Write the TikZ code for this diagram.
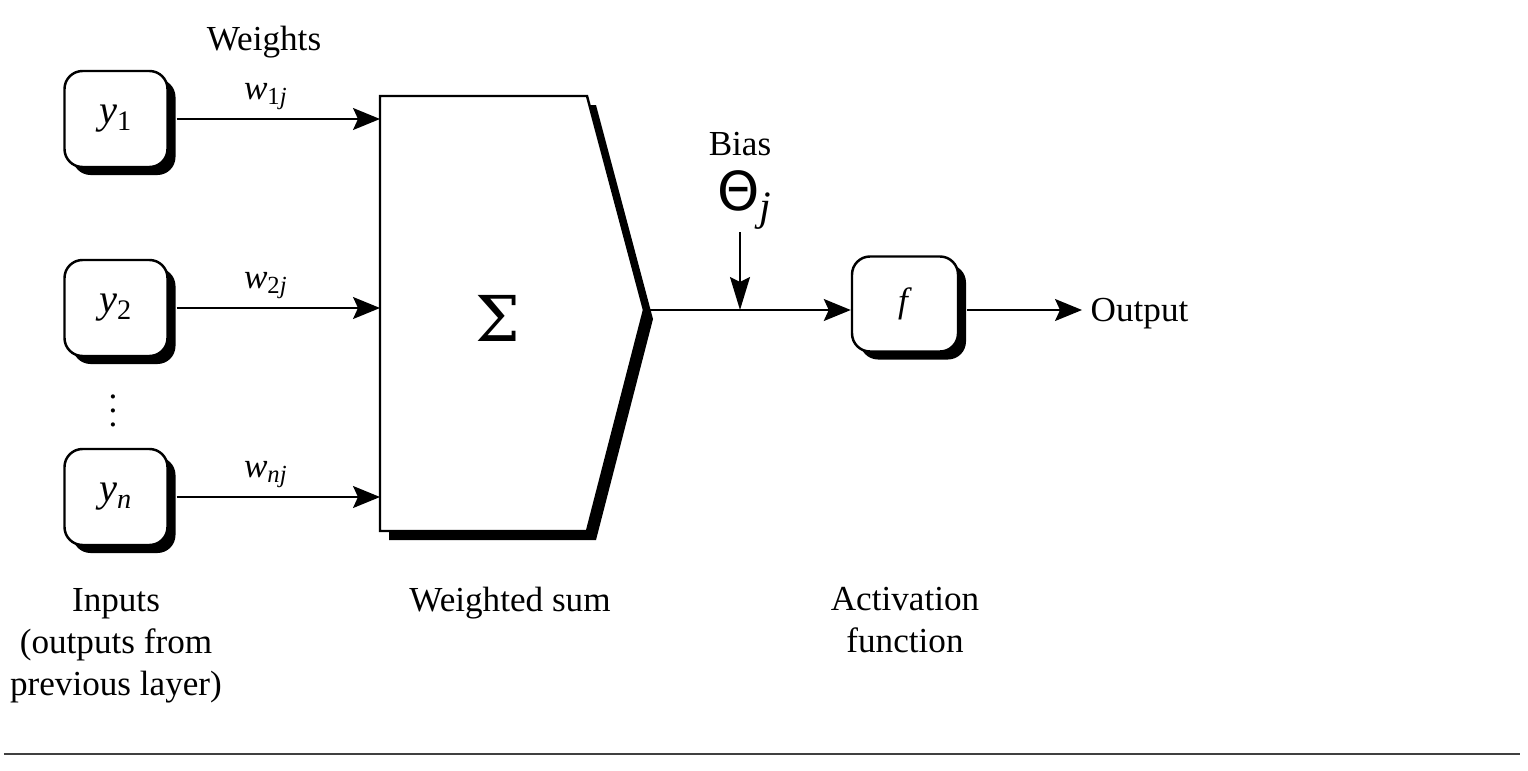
\documentclass[tikz,border=0pt]{standalone}
\usepackage{fontspec}
\setmainfont{Liberation Serif}
\newfontfamily\thetafont{DejaVu Sans}
\newfontfamily\sigmafont{DejaVu Serif}
\usetikzlibrary{arrows.meta,shadows}

\begin{document}
\begin{tikzpicture}[every node/.style={font=\fontsize{10}{12}\selectfont},
    unit/.style={draw,line width=0.7pt,fill=white,rounded corners=0.18cm,minimum width=1.03cm,minimum height=0.96cm,
        drop shadow={shadow xshift=0.08cm,shadow yshift=-0.08cm,fill=black,opacity=1}},
    input/.style={unit,font=\fontsize{11.5}{13}\selectfont},
    wire/.style={line width=0.5pt,-{Stealth[length=0.27cm,width=0.22cm,inset=0.05cm]}},
    caption/.style={align=center}]
\useasboundingbox (0,0) rectangle (15.28,7.70);
    \node[input] (y1) at (1.16,6.51) {\textit{y}\textsubscript{1}};
    \node[input] (y2) at (1.16,4.62) {\textit{y}\textsubscript{2}};
    \node[input] (yn) at (1.16,2.73) {\textit{y}\textsubscript{\textit{n}}};
    \node (dots) at (1.13,3.70) {\vdots};
    \node (weights) at (2.64,7.28) {Weights};
    \fill[black] (3.89,6.65) -- (5.96,6.65) -- (6.53,4.51) -- (5.96,2.30) -- (3.89,2.30) -- cycle;
    \draw[line width=0.7pt,fill=white] (3.80,6.74) coordinate (sumleft) -- (5.87,6.74) -- (6.44,4.60) coordinate (tip) -- (5.87,2.39) -- (3.80,2.39) -- cycle;
    \node (sum) at (4.98,4.52) {\fontsize{18}{22}\sigmafont Σ};
    \draw[wire] ([xshift=0.08cm]y1.east) -- node[above=-1pt,pos=0.44] (w1) {\textit{w}\textsubscript{1\textit{j}}} (y1 -| sumleft);
    \draw[wire] ([xshift=0.08cm]y2.east) -- node[above=-1pt,pos=0.44] (w2) {\textit{w}\textsubscript{2\textit{j}}} (y2 -| sumleft);
    \draw[wire] ([xshift=0.08cm]yn.east) -- node[above=-1pt,pos=0.44] (wn) {\textit{w}\textsubscript{\textit{nj}}} (yn -| sumleft);
    \node (bias) at (7.40,6.26) {Bias};
    \node (theta) at (7.45,5.70) {\fontsize{17}{20}\selectfont{\thetafont\addfontfeature{Scale=0.9}Θ}\textsubscript{\textit{j}}};
    \coordinate (bstart) at (7.40,5.38);
    \node[unit,minimum width=1.06cm,minimum height=0.95cm] (f) at (9.05,4.66) {\textit{f}};
    \node[anchor=west,inner sep=0pt] (out) at (10.90,4.56) {Output};
    \draw[wire] (tip) -- (tip -| f.west);
    \draw[line width=0.5pt,-{Stealth[length=0.33cm,width=0.2cm,inset=0.05cm]}] (bstart) -- (bstart |- tip);
    \draw[wire] ([xshift=0.08cm]f.east |- tip) -- ([xshift=-0.08cm]out.west |- tip);
    \node[caption] (inputs) at (1.16,1.24) {Inputs\\(outputs from\\previous layer)};
    \node[caption] (wsum) at (5.10,1.67) {Weighted sum};
    \node[caption] (act) at (9.05,1.50) {Activation\\function};
    \draw[black!75,line width=0.6pt] (0.04,0.16) -- (15.20,0.16);
\end{tikzpicture}
\end{document}
